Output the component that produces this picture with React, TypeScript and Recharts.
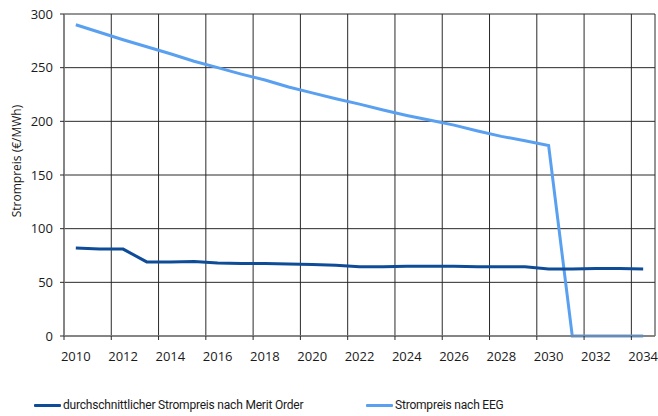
import { CartesianGrid, Line, LineChart, XAxis, YAxis } from 'recharts'

// Strompreis nach Merit Order vs. Strompreis nach EEG, 2010–2034.
// Values sit in the middle of each year band; grid lines mark every second year.

const YEARS = [
  2010, 2011, 2012, 2013, 2014, 2015, 2016, 2017, 2018, 2019, 2020, 2021, 2022,
  2023, 2024, 2025, 2026, 2027, 2028, 2029, 2030, 2031, 2032, 2033, 2034,
]
const MERIT_ORDER = [
  82, 81, 81, 69, 69, 69.5, 68, 67.5, 67.5, 67, 66.5, 66, 64.5, 64.5, 65, 65,
  65, 64.5, 64.5, 64.5, 62.5, 62.5, 63, 63, 62.5,
]
const EEG = [
  290, 283, 276, 269.5, 263, 256, 250, 244, 238.5, 232, 226.5, 221, 216, 210.5,
  205.5, 201, 196.5, 191, 186, 182, 177.5, 0, 0, 0, 0,
]
const X_TICKS = [2010, 2012, 2014, 2016, 2018, 2020, 2022, 2024, 2026, 2028, 2030, 2032, 2034]
const Y_TICKS = [0, 50, 100, 150, 200, 250, 300]

const DARK = '#0f4c97'
const LIGHT = '#5aa0f0'
const GRID = '#2a2a2a'
const AXIS = '#808080'
const TEXT = '#1a1a1a'
const FONT = '"Open Sans", "Segoe UI", sans-serif'

const W = 658
const H = 416
const LEFT = 64
const RIGHT = 3
const HALF_BAND = (W - LEFT - RIGHT) / (YEARS.length * 2)

const data = YEARS.map((year, i) => ({
  x: year + 0.5,
  merit: MERIT_ORDER[i],
  eeg: EEG[i],
}))

function YearTick({ x, y, payload }: { x?: number; y?: number; payload?: { value: number } }) {
  return (
    <text
      x={(x ?? 0) + HALF_BAND}
      y={(y ?? 0) + 19}
      textAnchor="middle"
      fill={TEXT}
      fontSize={13}
      fontFamily={FONT}
    >
      {payload?.value}
    </text>
  )
}

function LegendItem({ color, label, left }: { color: string; label: string; left: number }) {
  return (
    <div
      style={{
        position: 'absolute',
        left,
        top: 397,
        display: 'flex',
        alignItems: 'center',
        height: 16,
        fontFamily: 'Roboto, sans-serif',
        fontSize: 12,
        letterSpacing: -0.2,
        color: TEXT,
        whiteSpace: 'nowrap',
      }}
    >
      <div style={{ width: 27, height: 3, background: color, marginRight: 2, borderRadius: 1 }} />
      {label}
    </div>
  )
}

export default function App() {
  return (
    <div style={{ position: 'absolute', left: 0, top: 0, width: W, height: H, background: '#fff' }}>
      <LineChart
        width={W}
        height={H}
        data={data}
        margin={{ top: 14, right: RIGHT, bottom: 50, left: 0 }}
      >
        <CartesianGrid stroke={GRID} strokeWidth={1} />
        <XAxis
          type="number"
          dataKey="x"
          domain={[2010, 2035]}
          ticks={X_TICKS}
          interval={0}
          height={30}
          tickSize={4}
          tick={<YearTick />}
          tickLine={{ stroke: GRID }}
          axisLine={{ stroke: AXIS, strokeWidth: 1.5 }}
        />
        <YAxis
          domain={[0, 300]}
          ticks={Y_TICKS}
          width={LEFT}
          tickSize={4}
          tickMargin={7}
          tick={{ fill: TEXT, fontSize: 13, fontFamily: FONT }}
          tickLine={{ stroke: GRID }}
          axisLine={{ stroke: AXIS, strokeWidth: 1.5 }}
          label={{
            content: () => (
              <text
                transform="translate(21,161) rotate(-90)"
                textAnchor="middle"
                fill={TEXT}
                fontSize={12}
                fontFamily={FONT}
              >
                Strompreis (€/MWh)
              </text>
            ),
          }}
        />
        <Line
          type="linear"
          dataKey="eeg"
          stroke={LIGHT}
          strokeWidth={3}
          dot={false}
          isAnimationActive={false}
        />
        <Line
          type="linear"
          dataKey="merit"
          stroke={DARK}
          strokeWidth={3}
          dot={false}
          isAnimationActive={false}
        />
      </LineChart>
      <LegendItem color={DARK} label="durchschnittlicher Strompreis nach Merit Order" left={34} />
      <LegendItem color={LIGHT} label="Strompreis nach EEG" left={366} />
    </div>
  )
}
